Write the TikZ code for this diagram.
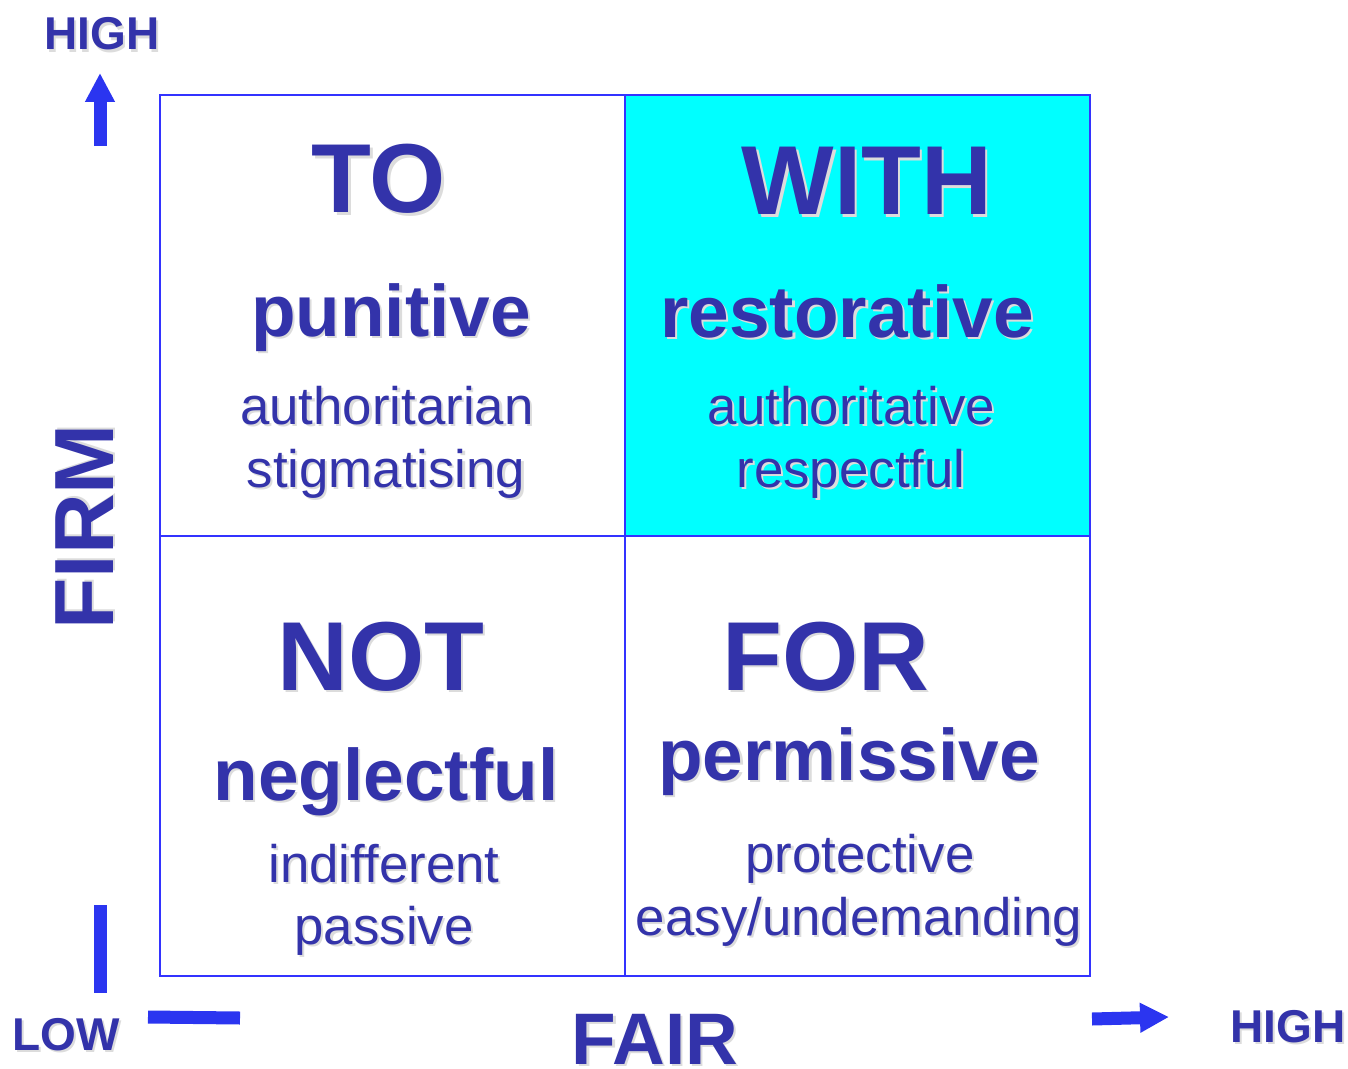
\documentclass[tikz,border=0pt]{standalone}
\usepackage{fontspec}
\setmainfont{Liberation Sans}
\usetikzlibrary{arrows.meta}

\definecolor{txtblue}{HTML}{3333AA}
\definecolor{txtshadow}{HTML}{DCDCDC}
\definecolor{lineblue}{HTML}{3333FF}
\definecolor{arrowblue}{HTML}{2B35F0}
\definecolor{withcyan}{HTML}{00FFFF}

% text with a light drop shadow
\newcommand\shadowed[1]{\makebox[0pt][l]{\hspace{1.1pt}\raisebox{-1.1pt}{\textcolor{txtshadow}{#1}}}#1}

\begin{document}
\begin{tikzpicture}[x=0.5pt, y=-0.5pt,
    big/.style={anchor=base, inner sep=0pt, text=txtblue, font=\fontsize{49}{55}\selectfont\bfseries},
    mid/.style={anchor=base, inner sep=0pt, text=txtblue, font=\fontsize{36.5}{42}\selectfont\bfseries},
    small/.style={anchor=base, inner sep=0pt, text=txtblue, font=\fontsize{26.4}{30}\selectfont},
    axis/.style={anchor=base, inner sep=0pt, text=txtblue, font=\fontsize{36.5}{42}\selectfont\bfseries},
    tick/.style={anchor=base, inner sep=0pt, text=txtblue, font=\fontsize{23}{26}\selectfont\bfseries},
    bar/.style={arrowblue, line width=6.5pt},
    blockarrow/.style={bar, -{Triangle[length=14.5pt, width=14pt]}}
]
    \useasboundingbox (0,0) rectangle (1348,1069);

    % Grid
    \fill[withcyan] (625,95) rectangle (1090,536);
    \draw[lineblue, line width=1pt] (160,95) rectangle (1090,976);
    \draw[lineblue, line width=1pt] (625,95) -- (625,976);
    \draw[lineblue, line width=1pt] (160,536) -- (1090,536);

    % Top left
    \node[big] (to) at (379,213) {\shadowed{TO}};
    \node[mid] (punitive) at (391,336) {\shadowed{punitive}};
    \node[small] (authoritarian) at (387,424) {\shadowed{authoritarian}};
    \node[small] (stigmatising) at (386,487) {\shadowed{stigmatising}};

    % Top right
    \node[big] (with) at (867,215) {\shadowed{WITH}};
    \node[mid] (restorative) at (847,337) {\shadowed{restorative}};
    \node[small] (authoritative) at (851,424) {\shadowed{authoritative}};
    \node[small] (respectful) at (851,487) {\shadowed{respectful}};

    % Bottom left
    \node[big] (not) at (381,690) {\shadowed{NOT}};
    \node[mid] (neglectful) at (386,800) {\shadowed{neglectful}};
    \node[small] (indifferent) at (384,882) {\shadowed{indifferent}};
    \node[small] (passive) at (384,944) {\shadowed{passive}};

    % Bottom right
    \node[big] (for) at (826,690) {\shadowed{FOR}};
    \node[mid] (permissive) at (849,780) {\shadowed{permissive}};
    \node[small] (protective) at (860,872) {\shadowed{protective}};
    \node[small] (easy) at (859,935) {\shadowed{easy/undemanding}};

    % Axes
    \node[axis, font=\fontsize{42}{48}\selectfont\bfseries, rotate=90] (firm) at (113,527) {\shadowed{FIRM}};
    \node[axis] (fair) at (655,1064) {\shadowed{FAIR}};
    \node[tick] (high-y) at (102,50) {\shadowed{HIGH}};
    \node[tick] (low) at (66,1050) {\shadowed{LOW}};
    \node[tick] (high-x) at (1288,1042) {\shadowed{HIGH}};

    % Arrows and bars
    \coordinate (up-from) at (100,146);
    \coordinate (up-to) at (100,73);
    \coordinate (vbar-top) at (100,905);
    \coordinate (vbar-bot) at (100,993);
    \coordinate (hbar-left) at (148,1017);
    \coordinate (hbar-right) at (240,1018);
    \coordinate (right-from) at (1092,1019);
    \coordinate (right-to) at (1169,1017);

    \draw[blockarrow] (up-from) -- (up-to);
    \draw[bar] (vbar-top) -- (vbar-bot);
    \draw[bar] (hbar-left) -- (hbar-right);
    \draw[blockarrow] (right-from) -- (right-to);
\end{tikzpicture}
\end{document}
